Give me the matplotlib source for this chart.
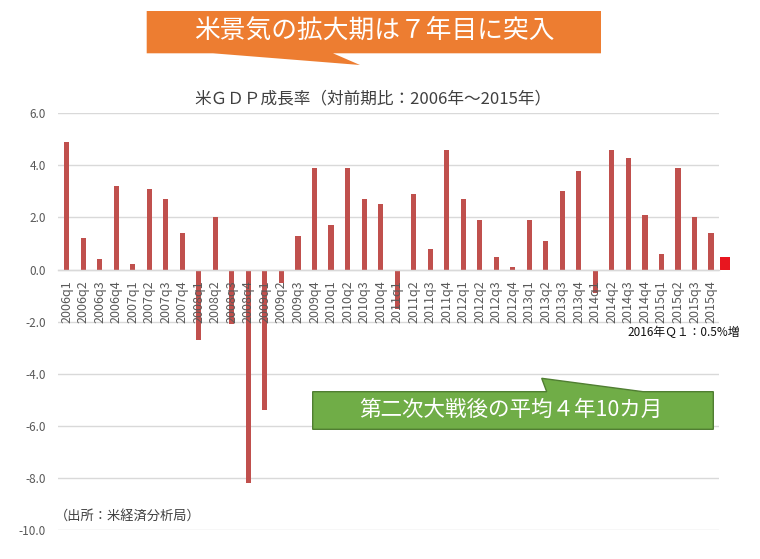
import matplotlib
matplotlib.use("Agg")
import matplotlib.pyplot as plt
from matplotlib.patches import Polygon

plt.rcParams['font.family'] = ['Noto Sans CJK JP', 'DejaVu Sans']

# ---- data ----
quarters = [f"{y}q{q}" for y in range(2006, 2016) for q in range(1, 5)]
growth = [4.9, 1.2, 0.4, 3.2,
          0.2, 3.1, 2.7, 1.4,
          -2.7, 2.0, -2.1, -8.2,
          -5.4, -0.5, 1.3, 3.9,
          1.7, 3.9, 2.7, 2.5,
          -1.5, 2.9, 0.8, 4.6,
          2.7, 1.9, 0.5, 0.1,
          1.9, 1.1, 3.0, 3.8,
          -0.9, 4.6, 4.3, 2.1,
          0.6, 3.9, 2.0, 1.4]
latest_label = "2016q1"
latest_value = 0.5
yticks = [-10, -8, -6, -4, -2, 0, 2, 4, 6]

title = "米ＧＤＰ成長率（対前期比：2006年～2015年）"
headline = "米景気の拡大期は７年目に突入"
note_avg = "第二次大戦後の平均４年10カ月"
note_latest = "2016年Ｑ１：0.5%増"
source = "（出所：米経済分析局）"

W, H = 760, 559
fig = plt.figure(figsize=(W / 100, H / 100), dpi=100)
fig.patch.set_facecolor("white")

def fx(x):
    return x / W

def fy(y):
    return 1 - y / H

ax = fig.add_axes([fx(58.4), fy(530), (719.3 - 58.4) / W, (530 - 113.3) / H])
for s in ["top", "right", "left"]:
    ax.spines[s].set_visible(False)
ax.spines["bottom"].set_position(("data", 0))
ax.spines["bottom"].set_color("#D9D9D9")
ax.spines["bottom"].set_linewidth(1.0)

x = list(range(len(quarters)))
ax.bar(x, growth, width=0.31, color="#C0504D", zorder=2)
ax.bar(len(quarters) - 0.15, latest_value, width=0.56, color="#E8161F",
       zorder=2, clip_on=False)

ax.set_xlim(-0.5, len(quarters) - 0.5)
ax.set_ylim(-10, 6)
ax.set_yticks(yticks)
ax.set_yticklabels([f"{v:.1f}" for v in yticks])
ax.set_xticks(x)
ax.set_xticklabels(quarters)

ax.set_axisbelow(True)
ax.yaxis.grid(True, color="#D9D9D9", linewidth=1.0)
ax.xaxis.set_zorder(3)
ax.tick_params(axis="y", length=0, pad=9, labelsize=8.5, labelcolor="#595959")
ax.tick_params(axis="x", length=0, pad=8, labelsize=9, labelcolor="#595959",
               labelrotation=90)

# title
fig.text(fx(373), fy(99), title, ha="center", va="center", fontsize=12,
         color="#404040")

# orange callout
orange = [(146.7, 11), (601, 11), (601, 53.3), (333, 53.3), (360, 65),
          (213, 53.3), (146.7, 53.3)]
fig.patches.append(Polygon([(fx(a), fy(b)) for a, b in orange], closed=True,
                           transform=fig.transFigure, facecolor="#ED7D31",
                           edgecolor="none", zorder=5))
fig.text(fx(374), fy(31), headline, ha="center", va="center", fontsize=18.5,
         color="white", zorder=6)

# green callout
green = [(312.7, 391.7), (546.7, 391.7), (541.7, 378.3), (643, 391.7),
         (713.3, 391.7), (713.3, 429.3), (312.7, 429.3)]
fig.patches.append(Polygon([(fx(a), fy(b)) for a, b in green], closed=True,
                           transform=fig.transFigure, facecolor="#70AD47",
                           edgecolor="#507E32", linewidth=1.0, zorder=5))
fig.text(fx(511), fy(410), note_avg, ha="center", va="center", fontsize=15.5,
         color="white", zorder=6)

fig.text(fx(684), fy(333), note_latest, ha="center", va="center", fontsize=8.5,
         color="#111111")
fig.text(fx(55), fy(516), source, ha="left", va="center", fontsize=9.5,
         color="#404040")

fig.savefig("out.png", dpi=100, facecolor="white")
